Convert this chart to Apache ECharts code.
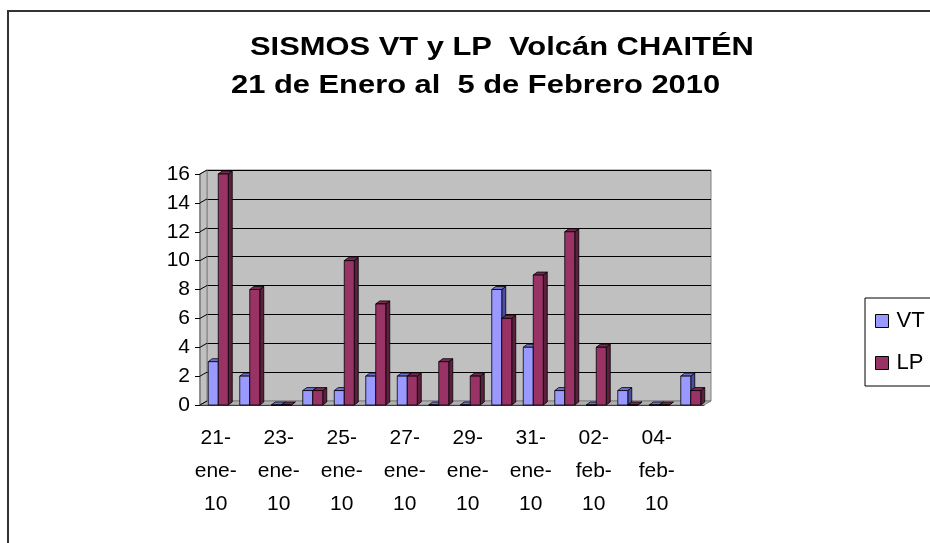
<!DOCTYPE html>
<html>
<head>
<meta charset="utf-8">
<script src="https://cdn.jsdelivr.net/npm/echarts@6/dist/echarts.min.js"></script>
<style>
  html, body { margin: 0; padding: 0; background: #fff; }
  #chart { width: 930px; height: 543px; }
</style>
</head>
<body>
<div id="chart"></div>
<script>
// data
const categories = [
  '21-ene-10', '22-ene-10', '23-ene-10', '24-ene-10', '25-ene-10', '26-ene-10',
  '27-ene-10', '28-ene-10', '29-ene-10', '30-ene-10', '31-ene-10', '01-feb-10',
  '02-feb-10', '03-feb-10', '04-feb-10', '05-feb-10'
]
const vtValues = [3, 2, 0, 1, 1, 2, 2, 0, 0, 8, 4, 1, 0, 1, 0, 2]
const lpValues = [16, 8, 0, 1, 10, 7, 2, 3, 2, 6, 9, 12, 4, 0, 0, 1]
const yTicks = [0, 2, 4, 6, 8, 10, 12, 14, 16]
const titleLines = ['SISMOS VT y LP  Volcán CHAITÉN', '21 de Enero al  5 de Febrero 2010']

// front plane of the 3d box and depth offset of the back wall
const W = 930, H = 543
const front = { left: 200, top: 174, right: 704, bottom: 405 }
const depth = { dx: 7, dy: -4 }
const font = 'Arial, "Liberation Sans", sans-serif'

const colorsVT = { front: '#9999FF', top: '#6F6FD0', side: '#4D4DA6' }
const colorsLP = { front: '#993366', top: '#7A2952', side: '#5C1F3D' }

// one 3d bar: front face, top face and right side
function bar3d(shift, c) {
  return function (params, api) {
    const idx = api.value(0)
    const top = api.coord([idx, api.value(1)])
    const base = api.coord([idx, 0])
    const w = 10, d = 4, h = 3
    const x0 = top[0] + 2.5 + shift
    const y0 = top[1], y1 = base[1]
    const line = { stroke: '#000', lineWidth: 0.8 }
    return {
      type: 'group',
      children: [
        { type: 'polygon', shape: { points: [[x0 + w, y0], [x0 + w + d, y0 - h], [x0 + w + d, y1 - h], [x0 + w, y1]] },
          style: Object.assign({ fill: c.side }, line) },
        { type: 'polygon', shape: { points: [[x0, y0], [x0 + w, y0], [x0 + w + d, y0 - h], [x0 + d, y0 - h]] },
          style: Object.assign({ fill: c.top }, line) },
        { type: 'rect', shape: { x: x0, y: y0, width: w, height: y1 - y0 },
          style: Object.assign({ fill: c.front }, line) }
      ]
    }
  }
}

const chart = echarts.init(document.getElementById('chart'))

chart.setOption({
  backgroundColor: '#fff',
  animation: false,
  legend: {
    orient: 'vertical',
    left: 865, top: 298,
    padding: [12, 40, 12, 10],
    itemGap: 20,
    itemWidth: 13, itemHeight: 13,
    borderColor: '#000', borderWidth: 1,
    icon: 'rect',
    itemStyle: { borderColor: '#000', borderWidth: 1 },
    textStyle: { fontFamily: font, fontSize: 22, color: '#000', padding: [0, 0, 0, 3] },
    data: [
      { name: 'VT', itemStyle: { color: colorsVT.front } },
      { name: 'LP', itemStyle: { color: colorsLP.front } }
    ]
  },
  grid: [{
    // back wall
    left: front.left + depth.dx, right: W - front.right - depth.dx,
    top: front.top + depth.dy, bottom: H - front.bottom - depth.dy,
    show: true, backgroundColor: '#C0C0C0', borderColor: '#808080', borderWidth: 1
  }, {
    // front plane
    left: front.left, right: W - front.right,
    top: front.top, bottom: H - front.bottom
  }],
  xAxis: [{
    gridIndex: 0, type: 'category', data: categories, show: false
  }, {
    gridIndex: 1, type: 'category', data: categories,
    axisLine: { lineStyle: { color: '#000', width: 1 } },
    axisTick: { interval: 0, length: 5, lineStyle: { color: '#000' } },
    axisLabel: {
      interval: 1, margin: 17,
      fontFamily: font, fontSize: 21, color: '#000', lineHeight: 33,
      formatter: v => v.split('-').join('-\n')
    },
    splitLine: { show: false }
  }],
  yAxis: [{
    gridIndex: 0, type: 'value', min: 0, max: 16, interval: 2,
    axisLine: { show: false }, axisTick: { show: false }, axisLabel: { show: false },
    splitLine: { lineStyle: { color: '#000', width: 1 } }
  }, {
    gridIndex: 1, type: 'value', min: 0, max: 16, interval: 2,
    axisLine: { show: true, lineStyle: { color: '#808080', width: 1.5 } },
    axisTick: { show: true, length: 5, lineStyle: { color: '#000' } },
    axisLabel: { margin: 10, fontFamily: font, fontSize: 21, color: '#000' },
    splitLine: { show: false }
  }],
  series: [{
    name: 'VT', type: 'custom', xAxisIndex: 1, yAxisIndex: 1,
    itemStyle: { color: colorsVT.front },
    renderItem: bar3d(-10, colorsVT),
    encode: { x: 0, y: 1 },
    data: vtValues.map((v, i) => [i, v]),
    z: 3
  }, {
    name: 'LP', type: 'custom', xAxisIndex: 1, yAxisIndex: 1,
    itemStyle: { color: colorsLP.front },
    renderItem: bar3d(0, colorsLP),
    encode: { x: 0, y: 1 },
    data: lpValues.map((v, i) => [i, v]),
    z: 4
  }]
})

// decoration of the 3d box: left wall, floor, tick connectors, outer frame, title
const pTop = chart.convertToPixel({ yAxisIndex: 1 }, 16)
const pBase = chart.convertToPixel({ yAxisIndex: 1 }, 0)
const graphics = [{
  type: 'rect', z: -10, silent: true,
  shape: { x: 8, y: 11, width: 1000, height: 1000 },
  style: { fill: 'none', stroke: '#333', lineWidth: 2 }
}, {
  type: 'polygon', z: 0, silent: true,
  shape: { points: [[front.left, pTop], [front.left + depth.dx, pTop + depth.dy],
    [front.left + depth.dx, pBase + depth.dy], [front.left, pBase]] },
  style: { fill: '#C0C0C0', stroke: '#808080', lineWidth: 1 }
}, {
  type: 'polygon', z: 1, silent: true,
  shape: { points: [[front.left, pBase], [front.right, pBase],
    [front.right + depth.dx, pBase + depth.dy], [front.left + depth.dx, pBase + depth.dy]] },
  style: { fill: '#B0B0B0', stroke: '#808080', lineWidth: 1 }
}]
yTicks.forEach(t => {
  const y = chart.convertToPixel({ yAxisIndex: 1 }, t)
  graphics.push({
    type: 'line', z: 1, silent: true,
    shape: { x1: front.left, y1: y, x2: front.left + depth.dx, y2: y + depth.dy },
    style: { stroke: '#000', lineWidth: 1 }
  })
})
// the title text in the picture is drawn wide, so it is stretched horizontally
const titlePos = [[250, 48.5], [231, 86]]
titleLines.forEach((t, i) => {
  graphics.push({
    type: 'text', x: titlePos[i][0], y: titlePos[i][1], scaleX: 1.235,
    style: {
      text: t, x: 0, y: 0, verticalAlign: 'middle', align: 'left',
      font: 'bold 25px ' + font, fill: '#000'
    }
  })
})
chart.setOption({ graphic: graphics })
</script>
</body>
</html>
